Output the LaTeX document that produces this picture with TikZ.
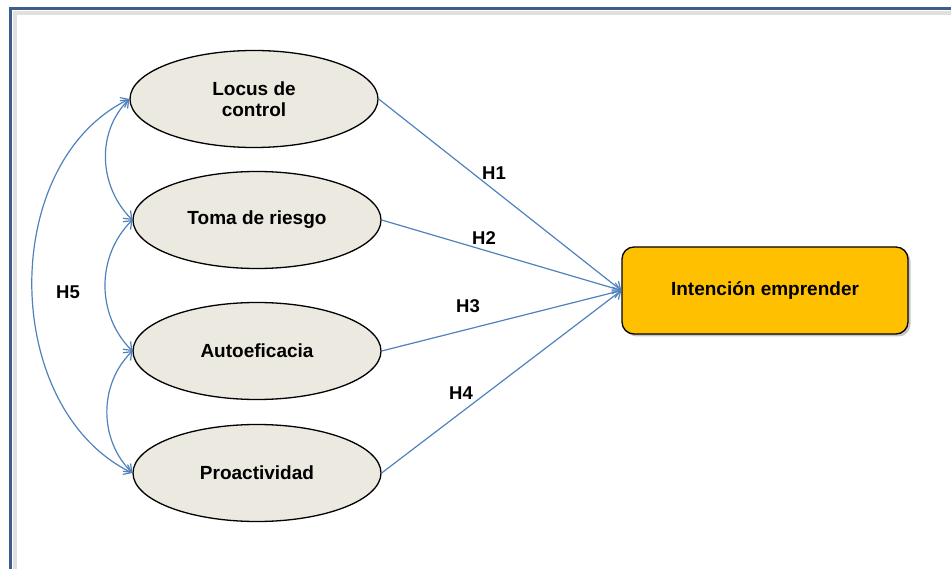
\documentclass[tikz,border=0pt]{standalone}
\usepackage{fontspec}
\setmainfont{Liberation Sans}
\usetikzlibrary{shapes.geometric,arrows.meta,shadows}
\definecolor{hypblue}{RGB}{79,129,189}
\definecolor{latentfill}{RGB}{236,233,224}
\definecolor{outcomefill}{RGB}{255,192,0}
\definecolor{frameblue}{RGB}{61,94,140}

\begin{document}
\begin{tikzpicture}[x=1pt,y=1pt,
	construct/.style={ellipse,draw,line width=1.3pt,fill=latentfill,minimum width=248pt,minimum height=97pt,inner sep=0pt,align=center,font=\bfseries\fontsize{19}{21}\selectfont},
	outcome/.style={rectangle,draw,rounded corners=12pt,line width=1.3pt,fill=outcomefill,minimum width=286pt,minimum height=87pt,font=\bfseries\fontsize{19}{21}\selectfont,drop shadow={shadow xshift=2.5pt,shadow yshift=-2.5pt,opacity=0.45}},
	hlabel/.style={font=\bfseries\fontsize{18.5}{21}\selectfont,inner sep=1pt},
	hyp/.style={draw=hypblue,line width=1.2pt,-{Straight Barb[length=7pt,width=11pt]}},
	corr/.style={draw=hypblue,line width=1.2pt,{Straight Barb[length=7pt,width=11pt]}-{Straight Barb[length=7pt,width=11pt]}}]
\useasboundingbox (0,0) rectangle (951,-569);
% frame
\draw[black!12,line width=4pt] (14.5,-569) -- (14.5,-13) -- (951,-13);
\draw[frameblue,line width=3.5pt] (10.5,-569) -- (10.5,-8.5) -- (951,-8.5);
% constructs
\node[construct] (locus) at (254,-99) {Locus de\\control};
\node[construct] (toma) at (257,-220) {Toma de riesgo};
\node[construct] (autoef) at (257,-351) {Autoeficacia};
\node[construct] (proact) at (257,-473) {Proactividad};
\node[outcome] (intencion) at (765,-290.5) {Intención emprender};
% hypotheses
\draw[hyp] (locus.east) -- (intencion.west);
\draw[hyp] (toma.east) -- (intencion.west);
\draw[hyp] (autoef.east) -- (intencion.west);
\draw[hyp] (proact.east) -- (intencion.west);
\node[hlabel] (h1) at (494,-173) {H1};
\node[hlabel] (h2) at (484,-238) {H2};
\node[hlabel] (h3) at (468,-306) {H3};
\node[hlabel] (h4) at (461,-393) {H4};
\node[hlabel] (h5) at (68,-292) {H5};
% correlations
\draw[corr] (locus.west) to[out=225,in=135] (toma.west);
\draw[corr] (toma.west) to[out=225,in=135] (autoef.west);
\draw[corr] (autoef.west) to[out=225,in=135] (proact.west);
\draw[corr] (locus.west) to[out=206,in=154] (proact.west);
\end{tikzpicture}
\end{document}
